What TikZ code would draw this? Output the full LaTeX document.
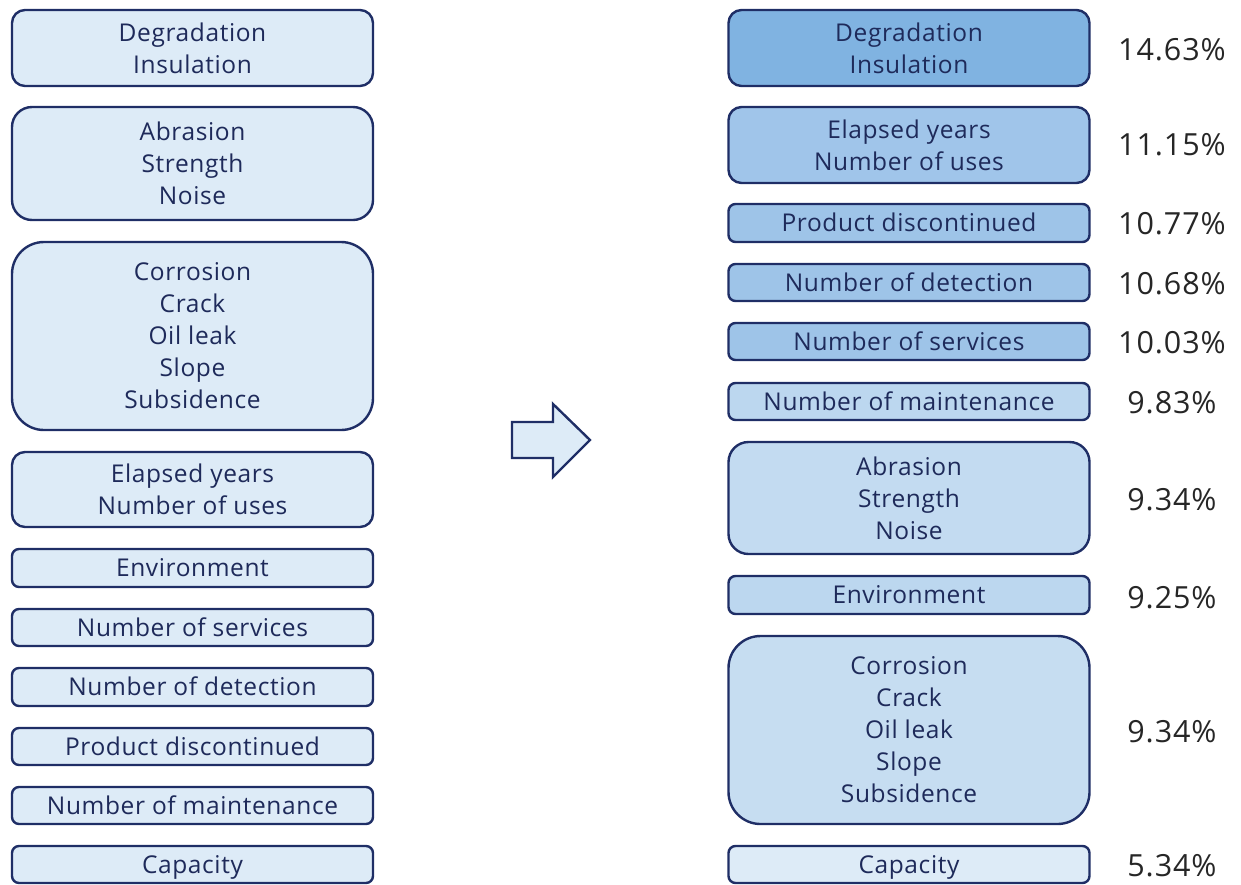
\documentclass[tikz,border=0pt]{standalone}
\usepackage{fontspec}
\setmainfont{Open Sans}
\newfontfamily\boxfont[LetterSpace=2.5]{Open Sans}
\newfontfamily\pctfont[LetterSpace=3]{Open Sans}
\definecolor{navy}{HTML}{1F2E66}
\definecolor{txt}{HTML}{1E2A5A}
\definecolor{fA}{HTML}{DDEBF7}
\definecolor{fD}{HTML}{80B3E1}
\definecolor{fE}{HTML}{A0C5EA}
\definecolor{fP}{HTML}{9EC4E8}
\definecolor{fM}{HTML}{BCD7EF}
\definecolor{fAb}{HTML}{C3DBF1}
\definecolor{fC}{HTML}{C6DDF1}
\tikzset{
  fbox/.style={draw=navy, line width=2.4pt, text=txt, align=center, inner sep=0pt,
    minimum width=361pt, font=\boxfont\fontsize{24.5}{32}\selectfont},
  sbox/.style={fbox, rounded corners=7pt, text depth=1pt},
  mbox/.style={fbox, rounded corners=13pt},
  lbox/.style={fbox, rounded corners=20pt},
  xbox/.style={fbox, rounded corners=32pt},
  pct/.style={font=\pctfont\fontsize{30.5}{32}\selectfont, text=black!85, inner sep=0pt}
}
\begin{document}
\begin{tikzpicture}[x=1pt,y=-1pt]
\useasboundingbox (0,0) rectangle (1241,884);
% left column
\node[mbox, fill=fA, minimum height=76pt] (l1) at (192.5,48) {Degradation\\Insulation};
\node[lbox, fill=fA, minimum height=113pt] (l2) at (192.5,163.5) {Abrasion\\Strength\\Noise};
\node[xbox, fill=fA, minimum height=188pt] (l3) at (192.5,336) {Corrosion\\Crack\\Oil leak\\Slope\\Subsidence};
\node[mbox, fill=fA, minimum height=75pt] (l4) at (192.5,489.5) {Elapsed years\\Number of uses};
\node[sbox, fill=fA, minimum height=38pt] (l5) at (192.5,568) {Environment};
\node[sbox, fill=fA, minimum height=37pt] (l6) at (192.5,627.5) {Number of services};
\node[sbox, fill=fA, minimum height=38pt] (l7) at (192.5,687) {Number of detection};
\node[sbox, fill=fA, minimum height=37pt] (l8) at (192.5,746.5) {Product discontinued};
\node[sbox, fill=fA, minimum height=37pt] (l9) at (192.5,805.5) {Number of maintenance};
\node[sbox, fill=fA, minimum height=37pt] (l10) at (192.5,864.5) {Capacity};
% arrow
\draw[draw=navy, line width=2.4pt, fill=fA, line join=miter]
  (512,422) -- (553,422) -- (553,404) -- (590,440) -- (553,477) -- (553,458) -- (512,458) -- cycle;
% right column
\node[mbox, fill=fD, minimum height=76pt] (r1) at (909,48) {Degradation\\Insulation};
\node[mbox, fill=fE, minimum height=76pt] (r2) at (909,145) {Elapsed years\\Number of uses};
\node[sbox, fill=fP, minimum height=38pt] (r3) at (909,223) {Product discontinued};
\node[sbox, fill=fP, minimum height=37pt] (r4) at (909,282.5) {Number of detection};
\node[sbox, fill=fP, minimum height=37pt] (r5) at (909,341.5) {Number of services};
\node[sbox, fill=fM, minimum height=37pt] (r6) at (909,401.5) {Number of maintenance};
\node[lbox, fill=fAb, minimum height=112pt] (r7) at (909,498) {Abrasion\\Strength\\Noise};
\node[sbox, fill=fM, minimum height=38pt] (r8) at (909,595) {Environment};
\node[xbox, fill=fC, minimum height=188pt] (r9) at (909,730) {Corrosion\\Crack\\Oil leak\\Slope\\Subsidence};
\node[sbox, fill=fA, minimum height=37pt] (r10) at (909,864.5) {Capacity};
% percentages
\node[pct] (p1) at (1172,50) {14.63\%};
\node[pct] (p2) at (1172,145) {11.15\%};
\node[pct] (p3) at (1172,224) {10.77\%};
\node[pct] (p4) at (1172,284) {10.68\%};
\node[pct] (p5) at (1172,343) {10.03\%};
\node[pct] (p6) at (1172,403) {9.83\%};
\node[pct] (p7) at (1172,500) {9.34\%};
\node[pct] (p8) at (1172,598) {9.25\%};
\node[pct] (p9) at (1172,732) {9.34\%};
\node[pct] (p10) at (1172,866) {5.34\%};
\end{tikzpicture}
\end{document}
